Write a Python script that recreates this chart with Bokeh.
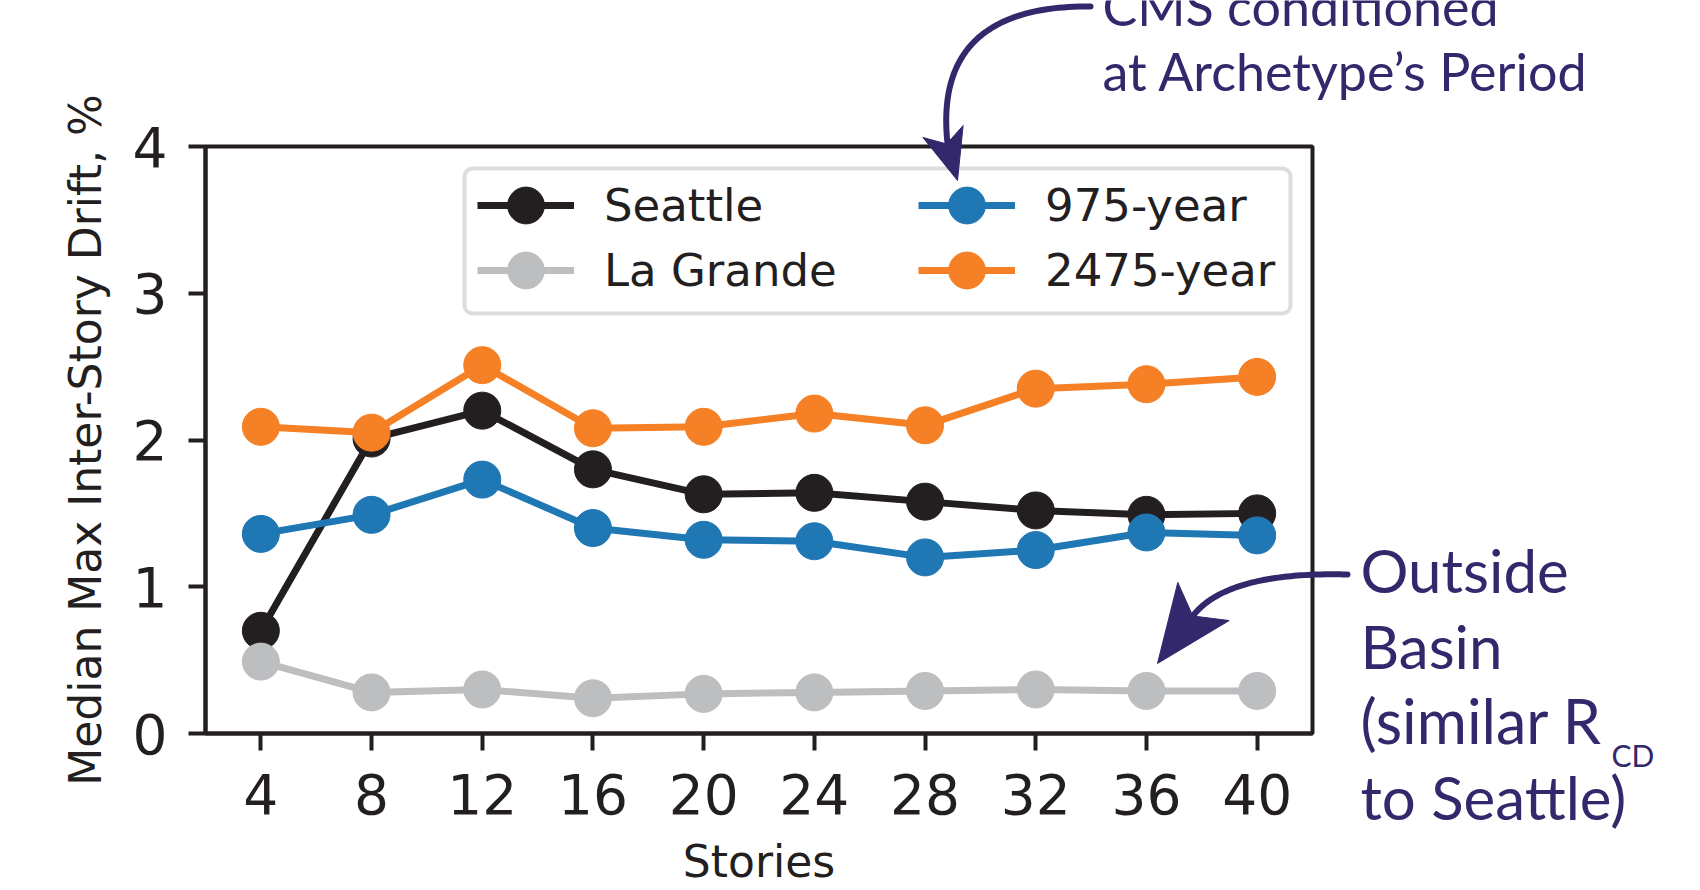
from bokeh.plotting import figure
from bokeh.models import (Legend, LegendItem, Label, BoxAnnotation, FixedTicker, Range1d)
from bokeh.embed import file_html
from bokeh.resources import INLINE

# ---------------- data ----------------
stories = [4, 8, 12, 16, 20, 24, 28, 32, 36, 40]
seattle = [0.70, 2.01, 2.20, 1.80, 1.63, 1.64, 1.58, 1.52, 1.49, 1.50]
la_grande = [0.49, 0.28, 0.30, 0.24, 0.27, 0.28, 0.29, 0.30, 0.29, 0.29]
yr975 = [1.36, 1.49, 1.73, 1.40, 1.32, 1.31, 1.20, 1.25, 1.37, 1.35]
yr2475 = [2.09, 2.05, 2.51, 2.08, 2.09, 2.18, 2.10, 2.35, 2.38, 2.43]

series_names = ["Seattle", "La Grande", "975-year", "2475-year"]
series_colors = ["#231f20", "#bcbec0", "#1f77b4", "#f58025"]
y_ticks = [0, 1, 2, 3, 4]

# ---------------- layout ----------------
W, H = 1700, 890
FL, FT, FW, FH = 205, 146, 1107, 587
X0, X1, Y0, Y1 = 2, 42, 0, 4
INK = "#231f20"
PURPLE = "#34286c"

p = figure(width=W, height=H, output_backend="svg", toolbar_location=None,
           x_range=Range1d(X0, X1), y_range=Range1d(Y0, Y1),
           min_border_left=FL, min_border_right=W - FL - FW,
           min_border_top=FT, min_border_bottom=H - FT - FH)
p.background_fill_color = "white"
p.border_fill_color = "white"
p.grid.visible = False
p.outline_line_color = INK
p.outline_line_width = 4
p.outline_line_alpha = 1

for ax in (p.xaxis[0], p.yaxis[0]):
    ax.axis_line_color = INK
    ax.axis_line_width = 4
    ax.major_tick_line_color = INK
    ax.major_tick_line_width = 4
    ax.major_tick_out = 17
    ax.major_tick_in = 0
    ax.minor_tick_line_color = None
    ax.major_label_text_font = "DejaVu Sans"
    ax.major_label_text_font_size = "55px"
    ax.major_label_text_color = INK
    ax.axis_label_text_font = "DejaVu Sans"
    ax.axis_label_text_font_size = "44px"
    ax.axis_label_text_font_style = "normal"
    ax.axis_label_text_color = INK

p.xaxis.ticker = FixedTicker(ticks=stories)
p.yaxis.ticker = FixedTicker(ticks=y_ticks)
p.xaxis.major_label_standoff = 23
p.yaxis.major_label_standoff = 21
p.xaxis.axis_label = "Stories"
p.yaxis.axis_label = "Median Max Inter-Story Drift, %"
p.xaxis.axis_label_standoff = 19
p.yaxis.axis_label_standoff = 19

renderers = []
for vals, name, col in zip([seattle, la_grande, yr975, yr2475], series_names, series_colors):
    l = p.line(stories, vals, line_color=col, line_width=7)
    s = p.scatter(stories, vals, marker="circle", size=37, fill_color=col, line_color=col)
    renderers.append((name, [l, s]))

PB = FT + FH


def dx(px):
    return X0 + (px - FL) / FW * (X1 - X0)


def dy(py):
    return Y0 + (PB - py) / FH * (Y1 - Y0)


# legend frame (rounded light-grey box)
box = BoxAnnotation(left=dx(464), right=dx(1290), top=dy(168), bottom=dy(313),
                    fill_color="white", fill_alpha=1,
                    line_color="#dcdddf", line_alpha=1, line_width=4, border_radius=8)
p.add_layout(box)

GH = 92  # legend glyph box height (marker is drawn at 0.4 of it)


def make_legend(item, px_left, py_center):
    name, rs = item
    lg = Legend(items=[LegendItem(label=name, renderers=rs)],
                location=(px_left - FL, PB - (py_center + GH // 2)),
                glyph_width=97, glyph_height=GH, label_standoff=30,
                label_text_font="DejaVu Sans", label_text_font_size="45px",
                label_text_color=INK, spacing=0, padding=0, margin=0,
                border_line_alpha=0, background_fill_alpha=0)
    p.add_layout(lg)


make_legend(renderers[0], 477, 205)
make_legend(renderers[1], 477, 270)
make_legend(renderers[2], 918, 205)
make_legend(renderers[3], 918, 270)

# ---------------- overlay for annotations (pixel coordinates) ----------------
q = figure(width=W, height=H, output_backend="svg", toolbar_location=None,
           x_range=Range1d(0, W), y_range=Range1d(H, 0),
           x_axis_location=None, y_axis_location=None,
           min_border=0, min_border_left=0, min_border_right=0,
           min_border_top=0, min_border_bottom=0)
q.grid.visible = False
q.outline_line_color = None
q.background_fill_color = None
q.border_fill_color = None
q.styles = {"position": "absolute", "left": "0px", "top": "0px"}


def lab(text, px, py, size, k=0.39):
    q.add_layout(Label(x=px, y=py - k * size, text=text, text_font="Lato",
                       text_font_size=f"{size}px", text_color=PURPLE,
                       text_baseline="alphabetic", text_align="left"))


lab("CMS conditioned", 1102, 26, 52)
lab("at Archetype\u2019s Period", 1102, 91, 52)
lab("Outside", 1360, 593, 60)
lab("Basin", 1360, 669, 60)
lab("(similar R", 1360, 744, 61)
lab("CD", 1611, 769, 30, k=0.47)
lab("to Seattle)", 1360, 820, 60)


def cubic(P, n=60):
    xs, ys = [], []
    for i in range(n + 1):
        t = i / n
        a, b, c, d = (1 - t) ** 3, 3 * (1 - t) ** 2 * t, 3 * (1 - t) * t ** 2, t ** 3
        xs.append(a * P[0][0] + b * P[1][0] + c * P[2][0] + d * P[3][0])
        ys.append(a * P[0][1] + b * P[1][1] + c * P[2][1] + d * P[3][1])
    return xs, ys


def curve(P, width=6):
    xs, ys = cubic(P)
    q.line(xs, ys, line_color=PURPLE, line_width=width, line_cap="round", line_join="round")


def head(tip, base_mid, half_w, notch):
    tx, ty = tip
    bx, by = base_mid
    L = ((tx - bx) ** 2 + (ty - by) ** 2) ** 0.5
    ux, uy = (tx - bx) / L, (ty - by) / L
    nx, ny = uy, -ux
    pts = [tip, (bx + half_w * nx, by + half_w * ny), (bx + notch * ux, by + notch * uy),
           (bx - half_w * nx, by - half_w * ny)]
    q.patch([x for x, _ in pts], [y for _, y in pts], fill_color=PURPLE,
            line_color=PURPLE, line_width=1)


curve([(1090, 6), (975, 5), (938, 60), (947, 143)])
head((957, 180), (942.5, 131), 21, 13)
curve([(1347, 574), (1270, 572), (1215, 585), (1192, 616)])
head((1157, 663), (1203, 601), 32, 18)

open("out.html", "w").write(file_html([p, q], INLINE))
